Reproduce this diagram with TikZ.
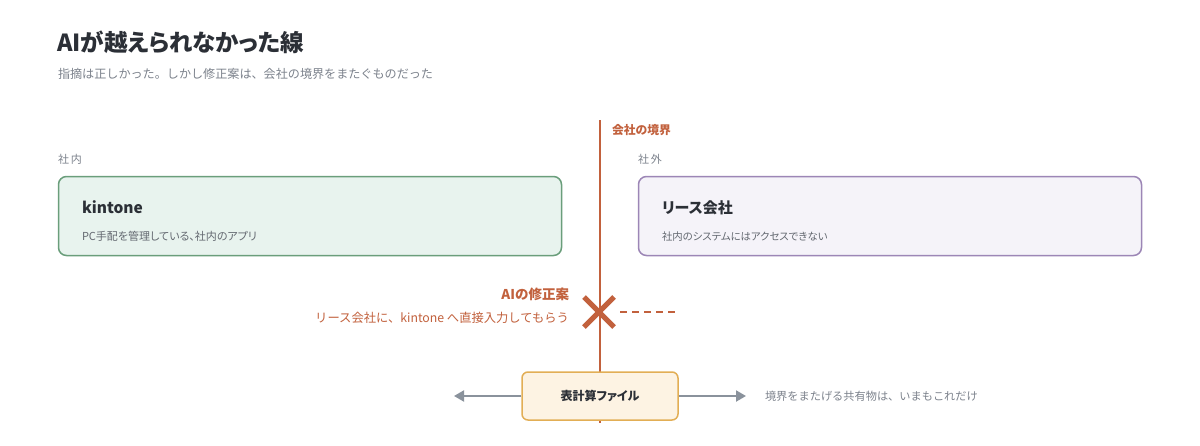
\documentclass[tikz,border=0pt]{standalone}
\usepackage{fontspec}
\setmainfont{Noto Sans CJK JP}
\newfontfamily\pfont{Noto Sans CJK JP}[RawFeature=+palt]
\usetikzlibrary{arrows.meta,calc}
\definecolor{ink}{HTML}{2B2F36}
\definecolor{mute}{HTML}{7C828C}
\definecolor{bound}{HTML}{C2613D}
\definecolor{gline}{HTML}{6A9E7B}
\definecolor{gfill}{HTML}{E8F3EE}
\definecolor{pline}{HTML}{9C86B6}
\definecolor{pfill}{HTML}{F5F3F9}
\definecolor{oline}{HTML}{E2AE55}
\definecolor{ofill}{HTML}{FDF3E3}
\definecolor{arr}{HTML}{8A929C}
\tikzset{
  txt/.style={inner sep=0pt, outer sep=0pt},
  card/.style={draw, line width=1.5pt, rounded corners=8pt, inner sep=0pt},
}
\begin{document}
\begin{tikzpicture}[x=1pt,y=-1pt]
\useasboundingbox (0,0) rectangle (1200,445);
\fill[white] (0,0) rectangle (1200,445);
% title
\node[txt, anchor=base west, text=ink, font=\pfont\fontsize{23.5}{28}\selectfont\bfseries] (title) at (57,51) {AIが越えられなかった線};
\node[txt, anchor=base west, text=mute, font=\fontsize{12.1}{15}\selectfont] (sub) at (58,78) {指摘は正しかった。しかし修正案は、会社の境界をまたぐものだった};
% boundary line
\coordinate (btop) at (600,120);
\coordinate (bbot) at (600,423);
\draw[bound, line width=2.5pt] (btop) -- (bbot);
\node[txt, anchor=base west, text=bound, font=\fontsize{11.8}{13}\selectfont\bfseries] (blabel) at (612,134) {会社の境界};
% section labels
\node[txt, anchor=base west, text=mute, font=\fontsize{11}{13}\selectfont] (in) at (58,163) {社\,内};
\node[txt, anchor=base west, text=mute, font=\fontsize{11}{13}\selectfont] (out) at (638,163) {社\,外};
% cards
\draw[card, gline, fill=gfill] (58.5,176.5) rectangle (561.5,255.5);
\node[txt, anchor=base west, text=ink, font=\fontsize{15.5}{19}\selectfont\bfseries] (k1) at (82,213) {kintone};
\node[txt, anchor=base west, text=mute!80!black, font=\pfont\fontsize{11}{13}\selectfont] (k2) at (82,240) {PC手配を管理している、社内のアプリ};
\draw[card, pline, fill=pfill] (638.5,176.5) rectangle (1141.5,255.5);
\node[txt, anchor=base west, text=ink, font=\pfont\fontsize{15}{19}\selectfont\bfseries] (l1) at (662,213) {リース会社};
\node[txt, anchor=base west, text=mute!80!black, font=\pfont\fontsize{10.4}{13}\selectfont] (l2) at (662,240) {社内のシステムにはアクセスできない};
% AI proposal
\node[txt, anchor=base east, text=bound, font=\fontsize{13.5}{15}\selectfont\bfseries] (ai1) at (569,299) {AIの修正案};
\node[txt, anchor=base east, text=bound, font=\fontsize{12.3}{14}\selectfont] (ai2) at (569,322) {リース会社に、kintone へ直接入力してもらう};
\coordinate (xc) at (599,312);
\draw[bound, line width=5pt] ($(xc)+(-15,-15)$) -- ($(xc)+(15,15)$);
\draw[bound, line width=5pt] ($(xc)+(-15,15)$) -- ($(xc)+(15,-15)$);
\coordinate (d1) at (620,312);
\coordinate (d2) at (678,312);
\draw[bound, line width=2pt, dash pattern=on 7pt off 5pt] (d1) -- (d2);
% shared file
\node[draw=oline, fill=ofill, line width=1.5pt, rounded corners=6pt, minimum width=156pt, minimum height=48pt, inner sep=0pt, text=ink, font=\pfont\fontsize{12}{15}\selectfont\bfseries] (file) at (600,396) {表計算ファイル};
\coordinate (la) at (454,396);
\coordinate (ra) at (746,396);
\draw[arr, line width=2pt, -{Triangle[length=10pt,width=11pt]}] (file.west) -- (la);
\draw[arr, line width=2pt, -{Triangle[length=10pt,width=11pt]}] (file.east) -- (ra);
\node[txt, anchor=west, text=mute, font=\fontsize{11.2}{14}\selectfont] (note) at (765,396) {境界をまたげる共有物は、いまもこれだけ};
\end{tikzpicture}
\end{document}
